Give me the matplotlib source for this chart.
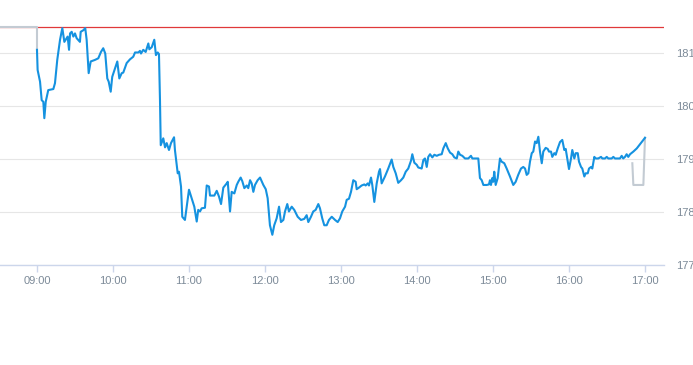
import matplotlib
matplotlib.use("Agg")
import matplotlib.pyplot as plt
import numpy as np

# minutes after 09:00 and price
minutes = [0, 0.5, 2.4, 3.7, 5.0, 5.8, 6.9, 8.9, 12.9, 14.2, 16.0, 18.2, 20.0, 21.6, 23.4,
           24.2, 25.3, 26.1, 27.4, 28.7, 30.0, 31.3, 33.9, 34.5, 36.6, 38.1, 39.2, 40.8,
           42.4, 45.8, 48.4, 50.5, 52.3, 53.9, 55.5, 56.6, 58.2, 59.4, 61.6, 63.4, 65.0,
           66.9, 68.1, 70.8, 73.4, 76.0, 77.4, 80.0, 81.3, 82.1, 83.9, 85.8, 87.9, 88.7,
           90.6, 92.6, 93.9, 95.3, 96.3, 97.1, 97.7, 99.7, 101.1, 102.4, 104.2, 105.8,
           108.2, 108.9, 111.1, 112.1, 113.7, 114.7, 116.8, 118.2, 120.0, 122.1, 124.2,
           126.1, 127.3, 128.7, 130.0, 132.6, 134.0, 135.8, 136.6, 140.0, 141.9, 143.7,
           145.3, 147.1, 149.8, 150.6, 152.4, 153.7, 155.8, 157.7, 158.9, 160.8, 162.1,
           163.7, 165.6, 166.8, 168.2, 169.5, 170.8, 172.1, 174.2, 176.1, 178.7, 180.6,
           182.1, 183.9, 185.8, 187.3, 189.2, 191.1, 192.6, 194.5, 195.8, 197.6, 198.9,
           201.1, 203.1, 205.8, 208.4, 211.0, 212.9, 214.2, 216.3, 218.1, 220.0, 222.1,
           223.4, 225.2, 226.8, 228.7, 230.5, 232.7, 235.3, 237.4, 239.2, 241.0, 243.2,
           244.5, 246.3, 247.9, 249.7, 251.6, 252.4, 254.2, 256.3, 258.4, 259.5, 261.1,
           262.1, 263.7, 264.7, 266.3, 268.2, 270.0, 270.8, 272.1, 274.7, 277.3, 280.0,
           281.3, 283.2, 285.2, 287.4, 289.2, 291.1, 293.1, 295.3, 296.3, 297.9, 299.8,
           301.0, 303.7, 305.0, 306.3, 307.7, 308.9, 310.3, 312.1, 313.7, 315.6, 317.4,
           319.5, 320.8, 322.7, 324.3, 326.1, 327.9, 329.5, 331.4, 332.6, 334.0, 335.8,
           337.9, 340.5, 342.6, 343.7, 348.4, 349.7, 351.1, 352.4, 355.0, 356.8, 357.6,
           358.4, 359.4, 360.2, 361.0, 362.1, 363.7, 365.5, 366.8, 368.9, 370.8, 373.4,
           376.0, 377.9, 379.9, 382.1, 383.9, 385.3, 386.6, 387.9, 389.2, 390.6, 391.8,
           393.2, 394.5, 395.8, 397.1, 398.5, 399.7, 401.6, 403.2, 404.2, 405.8, 406.8,
           408.4, 409.5, 411.1, 412.9, 414.7, 416.3, 417.4, 419.0, 420.0, 421.6, 422.6,
           424.2, 425.3, 426.9, 427.9, 429.5, 430.5, 432.1, 433.2, 434.8, 435.8, 437.4,
           438.4, 440.0, 441.1, 443.1, 445.3, 446.3, 448.4, 449.8, 451.0, 453.7, 455.0,
           456.3, 460.2, 461.6, 462.8, 464.2, 465.5, 466.8, 468.2, 470.8, 473.5, 476.1,
           478.7, 480.0]
prices = [181.06, 180.68, 180.46, 180.11, 180.08, 179.77, 180.08, 180.30, 180.32, 180.43,
          180.87, 181.25, 181.47, 181.21, 181.28, 181.31, 181.06, 181.37, 181.40, 181.31,
          181.37, 181.28, 181.21, 181.40, 181.43, 181.47, 181.25, 180.62, 180.84, 180.87,
          180.90, 181.02, 181.09, 180.99, 180.52, 180.46, 180.27, 180.55, 180.71, 180.84,
          180.52, 180.62, 180.63, 180.81, 180.88, 180.93, 181.01, 181.01, 181.04, 180.99,
          181.06, 181.02, 181.18, 181.07, 181.11, 181.25, 180.96, 181.01, 180.98, 180.11,
          179.26, 179.39, 179.22, 179.30, 179.17, 179.30, 179.41, 179.17, 178.73, 178.76,
          178.48, 177.91, 177.85, 178.10, 178.42, 178.26, 178.10, 177.82, 178.04, 178.01,
          178.07, 178.08, 178.50, 178.48, 178.31, 178.31, 178.40, 178.29, 178.15, 178.46,
          178.54, 178.57, 178.01, 178.38, 178.35, 178.51, 178.57, 178.65, 178.58, 178.45,
          178.50, 178.45, 178.60, 178.54, 178.38, 178.51, 178.60, 178.65, 178.51, 178.43,
          178.26, 177.75, 177.57, 177.75, 177.88, 178.10, 177.81, 177.85, 178.01, 178.15,
          178.01, 178.10, 178.04, 177.91, 177.85, 177.87, 177.94, 177.81, 177.91, 178.01,
          178.04, 178.15, 178.07, 177.88, 177.75, 177.75, 177.85, 177.91, 177.85, 177.81,
          177.88, 178.01, 178.10, 178.23, 178.25, 178.38, 178.60, 178.57, 178.43, 178.46,
          178.50, 178.52, 178.50, 178.54, 178.50, 178.65, 178.51, 178.19, 178.54, 178.76,
          178.81, 178.54, 178.67, 178.82, 178.99, 178.85, 178.73, 178.55, 178.60, 178.65,
          178.76, 178.82, 178.97, 179.09, 178.93, 178.89, 178.84, 178.82, 178.98, 179.01,
          178.85, 179.04, 179.09, 179.03, 179.08, 179.06, 179.08, 179.09, 179.20, 179.30,
          179.20, 179.12, 179.09, 179.03, 179.01, 179.14, 179.08, 179.06, 179.01, 179.01,
          179.06, 179.01, 179.01, 178.64, 178.60, 178.51, 178.51, 178.52, 178.60, 178.51,
          178.64, 178.57, 178.76, 178.51, 178.64, 179.01, 178.95, 178.92, 178.82, 178.67,
          178.51, 178.57, 178.70, 178.82, 178.85, 178.82, 178.70, 178.73, 178.95, 179.11,
          179.14, 179.33, 179.30, 179.42, 179.14, 178.92, 179.14, 179.21, 179.19, 179.14,
          179.14, 179.04, 179.11, 179.08, 179.20, 179.32, 179.36, 179.17, 179.19, 178.95,
          178.81, 179.01, 179.17, 179.01, 179.11, 179.11, 178.95, 178.85, 178.82, 178.67,
          178.73, 178.73, 178.82, 178.85, 178.82, 179.04, 179.01, 179.01, 179.04, 179.01,
          179.01, 179.04, 179.01, 179.01, 179.04, 179.01, 179.01, 179.06, 179.01, 179.04,
          179.09, 179.04, 179.09, 179.14, 179.20, 179.28, 179.36, 179.40]

# grey extended-hours pieces
pre_minutes = [-30, 0, 0]
pre_prices = [181.49, 181.49, 181.06]
post_minutes = [470.0, 470.8, 478.7, 480.0]
post_prices = [178.92, 178.51, 178.51, 179.40]

prev_close = 181.49
tick_minutes = [0, 60, 120, 180, 240, 300, 360, 420, 480]
tick_labels = ['09:00', '10:00', '11:00', '12:00', '13:00', '14:00', '15:00', '16:00', '17:00']
y_ticks = [177, 178, 179, 180, 181]

plt.rcParams['font.family'] = ['Liberation Sans', 'DejaVu Sans']

fig = plt.figure(figsize=(6.93, 3.65), dpi=100)
ax = fig.add_axes([0, 100 / 365, 664 / 693, 265 / 365])

ax.axhline(prev_close, color='#e0383a', lw=0.9, zorder=2)
ax.plot(post_minutes, post_prices, color='#c3cbd3', lw=1.5, zorder=3)
ax.plot(pre_minutes, pre_prices, color='#c3cbd3', lw=1.5, zorder=3)
ax.plot(minutes, prices, color='#1592e0', lw=1.5, zorder=4, solid_joinstyle='round')

ax.set_xlim(-29.2, 495)
ax.set_ylim(177, 182)
ax.set_xticks(tick_minutes)
ax.set_xticklabels(tick_labels)
ax.set_yticks(y_ticks)
ax.yaxis.tick_right()
ax.grid(axis='y', color='#e6e6e6', lw=0.8)
ax.set_axisbelow(True)

for s in ['top', 'left', 'right']:
    ax.spines[s].set_visible(False)
ax.spines['bottom'].set_color('#ccd6eb')
ax.spines['bottom'].set_linewidth(1.0)

ax.tick_params(axis='x', length=5, width=1, color='#ccd6eb', labelsize=8,
               labelcolor='#7c8a98', pad=3)
ax.tick_params(axis='y', length=0, labelsize=8, labelcolor='#7c8a98', pad=9)
for lab in ax.get_yticklabels():
    lab.set_horizontalalignment('left')

fig.savefig('out.png', dpi=100, facecolor='white')
